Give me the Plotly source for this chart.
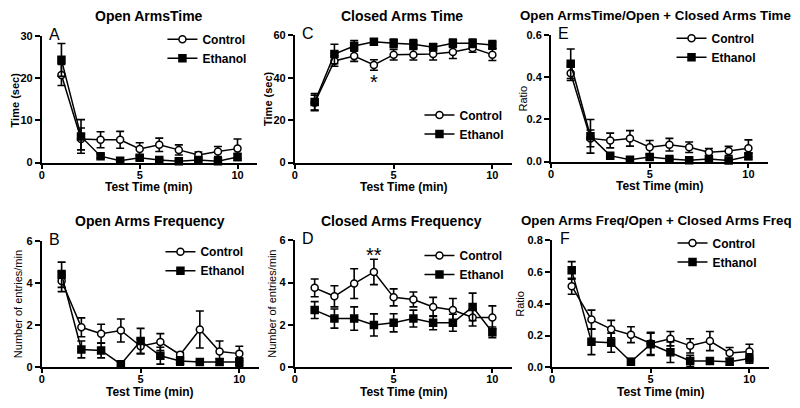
import plotly.graph_objects as go

# ---------------- data ----------------
minutes = [1, 2, 3, 4, 5, 6, 7, 8, 9, 10]

A_ctrl = [20.8, 5.6, 5.4, 5.4, 3.2, 4.2, 3.0, 1.8, 2.6, 3.3]
A_ctrl_err = [2.5, 2.6, 1.9, 2.0, 1.5, 1.6, 1.2, 0.7, 1.2, 2.3]
A_eth = [24.4, 6.2, 1.5, 0.4, 1.1, 0.6, 0.3, 0.6, 0.3, 1.3]
A_eth_err = [3.9, 4.0, 0.5, 0.2, 0.5, 0.3, 0.2, 0.3, 0.2, 0.8]

C_ctrl = [28.2, 47.9, 50.2, 46.0, 50.9, 50.9, 51.2, 52.1, 54.0, 50.9]
C_ctrl_err = [3.5, 2.5, 2.5, 2.5, 2.5, 2.5, 2.8, 3.0, 2.0, 2.8]
C_eth = [28.5, 51.2, 55.0, 57.0, 56.3, 55.8, 54.4, 56.3, 56.3, 55.5]
C_eth_err = [4.0, 4.6, 2.5, 1.3, 2.0, 2.2, 1.7, 2.0, 2.0, 2.0]

E_ctrl = [0.42, 0.11, 0.10, 0.11, 0.068, 0.08, 0.068, 0.044, 0.05, 0.063]
E_ctrl_err = [0.035, 0.04, 0.035, 0.037, 0.032, 0.03, 0.025, 0.018, 0.022, 0.04]
E_eth = [0.465, 0.12, 0.028, 0.008, 0.022, 0.012, 0.006, 0.012, 0.005, 0.025]
E_eth_err = [0.07, 0.08, 0.01, 0.005, 0.012, 0.006, 0.004, 0.006, 0.004, 0.015]

B_ctrl = [4.1, 1.9, 1.6, 1.75, 1.0, 1.2, 0.6, 1.8, 0.75, 0.65]
B_ctrl_err = [0.5, 0.45, 0.45, 0.55, 0.35, 0.4, 0.1, 0.88, 0.5, 0.35]
B_eth = [4.4, 0.85, 0.8, 0.15, 1.25, 0.55, 0.3, 0.25, 0.25, 0.25]
B_eth_err = [0.6, 0.4, 0.35, 0.08, 0.6, 0.4, 0.2, 0.05, 0.15, 0.2]

D_ctrl = [3.75, 3.35, 3.95, 4.5, 3.3, 3.2, 2.85, 2.7, 2.35, 2.35]
D_ctrl_err = [0.42, 0.5, 0.7, 0.6, 0.4, 0.35, 0.45, 0.55, 0.4, 0.55]
D_eth = [2.7, 2.3, 2.3, 2.0, 2.1, 2.3, 2.1, 2.1, 2.85, 1.65]
D_eth_err = [0.4, 0.45, 0.55, 0.52, 0.43, 0.4, 0.33, 0.4, 0.65, 0.25]

F_ctrl = [0.51, 0.30, 0.24, 0.205, 0.15, 0.18, 0.135, 0.165, 0.09, 0.10]
F_ctrl_err = [0.05, 0.06, 0.055, 0.05, 0.07, 0.045, 0.045, 0.06, 0.035, 0.045]
F_eth = [0.61, 0.16, 0.155, 0.035, 0.145, 0.095, 0.04, 0.04, 0.035, 0.055]
F_eth_err = [0.055, 0.08, 0.06, 0.02, 0.07, 0.065, 0.035, 0.02, 0.02, 0.03]

titles = ["Open ArmsTime", "Closed Arms Time", "Open ArmsTime/Open + Closed Arms Time",
          "Open Arms Frequency", "Closed Arms Frequency", "Open Arms Freq/Open + Closed Arms Freq"]
letters = ["A", "C", "E", "B", "D", "F"]
y_titles = ["Time (sec)", "Time (sec)", "Ratio",
            "Number of entries/min", "Number of entries/min", "Ratio"]
x_title = "Test Time (min)"
x_ticks = [0, 5, 10]
y_ticks = [[0, 10, 20, 30], [0, 20, 40, 60], [0, 0.2, 0.4, 0.6],
           [0, 2, 4, 6], [0, 2, 4, 6], [0, 0.2, 0.4, 0.6, 0.8]]
y_max = [30, 60, 0.6, 6, 6, 0.8]
series_names = ["Control", "Ethanol"]

# ---------------- layout geometry (screen pixels) ----------------
W, H = 800, 408
OFF = 8  # default page body margin of the html page
FONT = "Liberation Sans, Arial, sans-serif"
# x0, x1, ytop, ybottom
boxes = [(39, 255, 31, 161), (293, 511, 30, 161), (550, 768, 30, 160),
         (39, 257, 242, 372), (293, 511, 241, 372), (551, 769, 241, 372)]
title_pos = [(147, 10), (400, 10), (655, 10), (148, 221), (400, 221), (656, 221)]
title_size = [14, 14, 13.3, 14, 14, 13.3]
ytitle_x = [12, 266, 522, 15, 270, 519]
ytitle_bold = [True, True, False, False, False, False]
legend_pos = [(160, 19), (418, 97), (671, 18), (158, 238), (418, 242), (672, 229)]


def px(x):
    return (x - OFF) / W


def py(y):
    return 1 - (y - OFF) / H


panel_data = [(A_ctrl, A_ctrl_err, A_eth, A_eth_err), (C_ctrl, C_ctrl_err, C_eth, C_eth_err),
              (E_ctrl, E_ctrl_err, E_eth, E_eth_err), (B_ctrl, B_ctrl_err, B_eth, B_eth_err),
              (D_ctrl, D_ctrl_err, D_eth, D_eth_err), (F_ctrl, F_ctrl_err, F_eth, F_eth_err)]

fig = go.Figure()
layout = dict(
    width=W, height=H, margin=dict(l=0, r=0, t=0, b=0),
    paper_bgcolor="white", plot_bgcolor="white",
    font=dict(family=FONT, color="black"),
)
annotations = []

for i, (ctrl, ctrl_err, eth, eth_err) in enumerate(panel_data):
    n = "" if i == 0 else str(i + 1)
    xa, ya = "x" + n, "y" + n
    leg = "legend" + n
    x0, x1, yt, yb = boxes[i]
    for name, vals, errs, sym, fill in [
        (series_names[0], ctrl, ctrl_err, "circle", "white"),
        (series_names[1], eth, eth_err, "square", "black"),
    ]:
        fig.add_trace(go.Scatter(
            x=minutes, y=vals, name=name, mode="lines+markers",
            xaxis=xa, yaxis=ya, legend=leg, cliponaxis=False,
            line=dict(color="black", width=1.5),
            marker=dict(symbol=sym, size=7, color=fill, line=dict(color="black", width=1.5)),
            error_y=dict(type="data", array=errs, visible=True, color="black",
                         thickness=1.6, width=4),
        ))
    layout["xaxis" + n] = dict(
        domain=[px(x0), px(x1)], range=[0, 11], anchor=ya,
        tickvals=x_ticks, showline=True, linecolor="black", linewidth=2,
        ticks="outside", ticklen=4, tickwidth=2, tickcolor="black",
        ticklabelstandoff=-3,
        showgrid=False, zeroline=False,
        tickfont=dict(size=11, family=FONT, weight="bold"),
    )
    layout["yaxis" + n] = dict(
        domain=[py(yb), py(yt)], range=[0, y_max[i]], anchor=xa,
        tickvals=y_ticks[i], showline=True, linecolor="black", linewidth=2,
        ticks="outside", ticklen=5, tickwidth=2, tickcolor="black",
        showgrid=False, zeroline=False,
        tickformat=".1f" if y_max[i] < 1 else "d",
        tickfont=dict(size=11, family=FONT, weight="bold"),
    )
    lx, ly = legend_pos[i]
    layout[leg] = dict(
        x=px(lx), y=py(ly), xanchor="left", yanchor="top",
        bgcolor="rgba(0,0,0,0)", borderwidth=0,
        font=dict(size=12, family=FONT, weight="bold"),
        itemwidth=30, tracegroupgap=0,
    )
    # panel title
    tx, ty = title_pos[i]
    annotations.append(dict(text="<b>%s</b>" % titles[i], x=px(tx), y=py(ty), xref="paper", yref="paper",
                            showarrow=False, xanchor="center", yanchor="middle",
                            font=dict(size=title_size[i], family=FONT)))
    # x title
    annotations.append(dict(text="<b>%s</b>" % x_title, x=px((x0 + x1) / 2), y=py(yb + 25),
                            xref="paper", yref="paper", showarrow=False,
                            xanchor="center", yanchor="middle", font=dict(size=12, family=FONT)))
    # y title
    yt_text = "<b>%s</b>" % y_titles[i] if ytitle_bold[i] else y_titles[i]
    annotations.append(dict(text=yt_text, x=px(ytitle_x[i]), y=py((yt + yb) / 2),
                            xref="paper", yref="paper", showarrow=False, textangle=-90,
                            xanchor="center", yanchor="middle", font=dict(size=11, family=FONT)))
    # panel letter
    annotations.append(dict(text=letters[i], x=px(x0 + 13), y=py(yt - 2), xref="paper", yref="paper",
                            showarrow=False, xanchor="center", yanchor="middle",
                            font=dict(size=16, family=FONT)))

# significance marks
annotations.append(dict(text="*", x=4, y=38.0, xref="x2", yref="y2", showarrow=False,
                        font=dict(size=20, family=FONT)))
annotations.append(dict(text="**", x=4, y=5.3, xref="x5", yref="y5", showarrow=False,
                        font=dict(size=20, family=FONT)))

layout["annotations"] = annotations
fig.update_layout(**layout)
fig.write_html("out.html")
